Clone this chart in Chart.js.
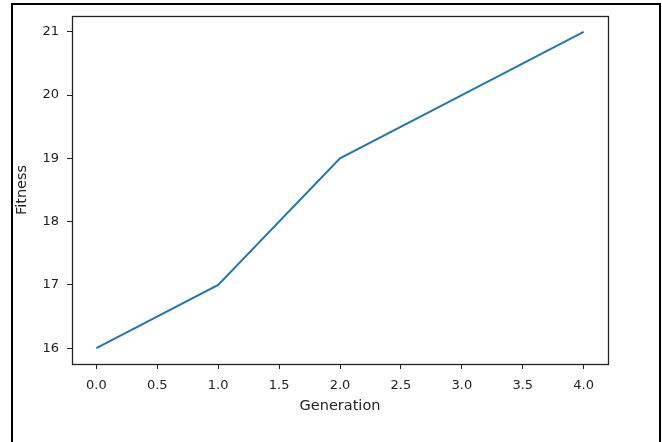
<!DOCTYPE html>
<html>
<head>
<meta charset="utf-8">
<script src="https://cdn.jsdelivr.net/npm/chart.js@4/dist/chart.umd.min.js"></script>
<style>
html,body{margin:0;padding:0;background:#fff;}
#c{display:block;}
</style>
</head>
<body>
<canvas id="c" width="662" height="442"></canvas>
<script>
const generations = [0, 1, 2, 3, 4];
const fitness = [16, 17, 19, 20, 21];
const xTicks = [0, 0.5, 1, 1.5, 2, 2.5, 3, 3.5, 4];
const yTicks = [16, 17, 18, 19, 20, 21];
const xTitle = 'Generation';
const yTitle = 'Fitness';

const FONT = "'DejaVu Sans', sans-serif";

const framePlugin = {
  id: 'frame',
  afterDraw(chart) {
    const {ctx, chartArea: a} = chart;
    ctx.save();
    ctx.strokeStyle = '#222';
    ctx.lineWidth = 1.3;
    ctx.strokeRect(Math.round(a.left) + 0.5, Math.round(a.top) + 0.5, Math.round(a.right - a.left), Math.round(a.bottom - a.top));
    ctx.strokeStyle = '#000';
    ctx.lineWidth = 2;
    ctx.strokeRect(12, 4, 648, 460);
    ctx.restore();
  }
};
const bgPlugin = {
  id: 'bg',
  beforeDraw(chart) {
    const {ctx} = chart;
    ctx.save();
    ctx.fillStyle = '#fff';
    ctx.fillRect(0, 0, chart.width, chart.height);
    ctx.restore();
  }
};

new Chart(document.getElementById('c'), {
  type: 'line',
  data: {
    datasets: [{
      data: generations.map((g, i) => ({x: g, y: fitness[i]})),
      borderColor: '#1f77b4',
      borderWidth: 2,
      pointRadius: 0,
      fill: false,
      tension: 0
    }]
  },
  options: {
    responsive: false,
    animation: false,
    devicePixelRatio: 1,
    layout: {padding: {top: 16, right: 54, left: 0, bottom: 0}},
    plugins: {legend: {display: false}, tooltip: {enabled: false}},
    scales: {
      x: {
        type: 'linear',
        min: -0.2,
        max: 4.2,
        afterBuildTicks: s => { s.ticks = xTicks.map(v => ({value: v})); },
        afterFit: s => { s.height = 78; },
        grid: {display: true, drawOnChartArea: false, drawTicks: true, tickLength: 5, tickColor: '#222', tickWidth: 1},
        border: {display: false},
        ticks: {
          color: '#222',
          font: {family: FONT, size: 13},
          padding: 9,
          maxRotation: 0,
          autoSkip: false,
          callback: v => Number(v).toFixed(1)
        },
        title: {display: true, text: xTitle, color: '#222', font: {family: FONT, size: 14.5}, padding: {top: 0, bottom: 27}}
      },
      y: {
        type: 'linear',
        min: 15.75,
        max: 21.25,
        afterBuildTicks: s => { s.ticks = yTicks.map(v => ({value: v})); },
        afterFit: s => { s.width = 72; },
        grid: {display: true, drawOnChartArea: false, drawTicks: true, tickLength: 5, tickColor: '#222', tickWidth: 1},
        border: {display: false},
        ticks: {
          color: '#222',
          font: {family: FONT, size: 13},
          padding: 8,
          autoSkip: false,
          callback: v => String(v)
        },
        title: {display: true, text: yTitle, color: '#222', font: {family: FONT, size: 14.5}, padding: {top: 14, bottom: 0}}
      }
    }
  },
  plugins: [bgPlugin, framePlugin]
});
</script>
</body>
</html>
